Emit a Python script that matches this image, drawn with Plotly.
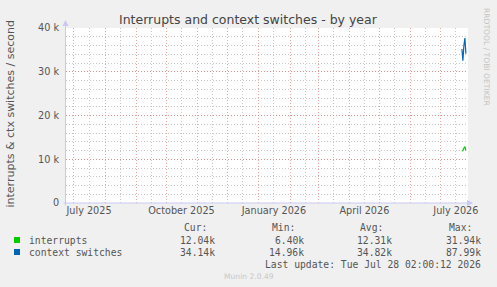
import plotly.graph_objects as go

# ---------------- data ----------------
dates = ["2026-07-22", "2026-07-23", "2026-07-24", "2026-07-25", "2026-07-26"]
interrupts = [11900, 12000, 12500, 12900, 12040]
ctx_switches = [35200, 32500, 36000, 37700, 34140]

series_names = ["interrupts", "context switches"]
cur_vals = ["12.04k", "34.14k"]
min_vals = ["6.40k", "14.96k"]
avg_vals = ["12.31k", "34.82k"]
max_vals = ["31.94k", "87.99k"]

x_start = "2025-06-23 02:00"
x_end = "2026-07-28 02:00"
y_tick_vals = [0, 10000, 20000, 30000, 40000]
y_tick_text = ["0", "10 k", "20 k", "30 k", "40 k"]
x_label_vals = ["2025-07-16", "2025-10-16", "2026-01-16", "2026-04-16", "2026-07-16"]
x_label_text = ["July 2025", "October 2025", "January 2026", "April 2026", "July 2026"]

title = "Interrupts and context switches - by year"
y_title = "interrupts & ctx switches / second"
last_update = "Last update: Tue Jul 28 02:00:12 2026"

# ---------------- layout helpers ----------------
W, H = 497, 287
L, R, T, B = 66, 29, 28, 84
PW, PH = W - L - R, H - T - B


def px(x):
    return (x - L) / PW


def py(y):
    return (H - B - y) / PH


GREEN = "#00cc00"
BLUE = "#0066b3"
colors = [GREEN, BLUE]
TXT = "#555555"

fig = go.Figure()
fig.add_trace(go.Scatter(x=dates, y=interrupts, mode="lines", name=series_names[0],
                         line=dict(color=GREEN, width=1.2), xaxis="x", yaxis="y"))
fig.add_trace(go.Scatter(x=dates, y=ctx_switches, mode="lines", name=series_names[1],
                         line=dict(color=BLUE, width=1.2), xaxis="x", yaxis="y"))

annotations = []
shapes = []

# title
annotations.append(dict(text=title, x=px(248), y=py(19), xref="paper", yref="paper",
                        showarrow=False, font=dict(family="DejaVu Sans", size=12.5, color="#444444"),
                        xanchor="center", yanchor="middle"))
# y title
annotations.append(dict(text=y_title, x=px(9.5), y=py(114), xref="paper", yref="paper",
                        showarrow=False, textangle=-90,
                        font=dict(family="DejaVu Sans", size=11, color=TXT),
                        xanchor="center", yanchor="middle"))
# watermark right
annotations.append(dict(text="RRDTOOL / TOBI OETIKER", x=px(487), y=py(57), xref="paper", yref="paper",
                        showarrow=False, textangle=90,
                        font=dict(family="DejaVu Sans", size=7.6, color="#c4c4c4"),
                        xanchor="center", yanchor="middle"))
# axis arrows
annotations.append(dict(text="", x=px(65.5), y=py(20), xref="paper", yref="paper",
                        ax=0, ay=187, showarrow=True, arrowhead=2, arrowsize=1.2,
                        arrowwidth=1, arrowcolor="#c8c8f4", standoff=0))
annotations.append(dict(text="", x=px(473), y=py(203), xref="paper", yref="paper",
                        ax=-411, ay=0, showarrow=True, arrowhead=2, arrowsize=1.2,
                        arrowwidth=1, arrowcolor="#c8c8f4", standoff=0))

# legend block
mono = dict(family="DejaVu Sans Mono", size=9.7, color=TXT)
headers = ["Cur:", "Min:", "Avg:", "Max:"]
head_x = [182, 270, 358, 447]
val_right = [217, 306, 394, 483]
cols = [cur_vals, min_vals, avg_vals, max_vals]
for hx, h in zip(head_x, headers):
    annotations.append(dict(text=h, x=px(hx), y=py(227), xref="paper", yref="paper",
                            showarrow=False, font=mono, xanchor="left", yanchor="middle"))
row_y = [240, 252]
for i, name in enumerate(series_names):
    annotations.append(dict(text=name, x=px(27), y=py(row_y[i]), xref="paper", yref="paper",
                            showarrow=False, font=mono, xanchor="left", yanchor="middle"))
    shapes.append(dict(type="rect", xref="paper", yref="paper",
                       x0=px(14), x1=px(20), y0=py(row_y[i] + 3), y1=py(row_y[i] - 3),
                       fillcolor=colors[i], line=dict(width=0)))
    for c, rx in zip(cols, val_right):
        annotations.append(dict(text=c[i], x=px(rx), y=py(row_y[i]), xref="paper", yref="paper",
                                showarrow=False, font=mono, xanchor="right", yanchor="middle"))
annotations.append(dict(text=last_update, x=px(483), y=py(264), xref="paper", yref="paper",
                        showarrow=False, font=mono, xanchor="right", yanchor="middle"))
annotations.append(dict(text="Munin 2.0.49", x=px(249), y=py(276), xref="paper", yref="paper",
                        showarrow=False, font=dict(family="DejaVu Sans", size=7.6, color="#c8c8c8"),
                        xanchor="center", yanchor="middle"))

RED_GRID = "rgba(225,125,125,0.7)"
GRAY_GRID = "rgba(195,195,195,0.9)"

fig.update_layout(
    width=W, height=H,
    margin=dict(l=L, r=R, t=T, b=B, pad=0),
    paper_bgcolor="#f0f0f0", plot_bgcolor="#ffffff",
    showlegend=False,
    xaxis=dict(type="date", range=[x_start, x_end], tickvals=x_label_vals, ticktext=x_label_text,
               showgrid=False, zeroline=False, showline=False, ticks="",
               tickfont=dict(family="DejaVu Sans", size=9.7, color=TXT), fixedrange=True),
    xaxis2=dict(type="date", range=[x_start, x_end], overlaying="x", showticklabels=False,
                tick0="2025-07-01", dtick="M1", showgrid=True, gridcolor=RED_GRID, griddash="1px,2px",
                gridwidth=1, zeroline=False, showline=False, ticks="",
                minor=dict(tick0="2025-06-16", dtick="M1", showgrid=True, gridcolor=GRAY_GRID,
                           griddash="1px,2px", gridwidth=1)),
    yaxis=dict(range=[0, 40000], tickvals=y_tick_vals, ticktext=y_tick_text,
               showgrid=True, gridcolor=RED_GRID, griddash="1px,2px", gridwidth=1,
               minor=dict(dtick=2000, showgrid=True, gridcolor=GRAY_GRID, griddash="1px,2px"),
               zeroline=False, showline=False, ticks="outside", ticklen=4, tickcolor="rgba(0,0,0,0)",
               tickfont=dict(family="DejaVu Sans", size=9.7, color=TXT)),
    annotations=annotations,
    shapes=shapes,
)
# dummy trace to activate xaxis2 grid
fig.add_trace(go.Scatter(x=[x_start], y=[None], xaxis="x2", yaxis="y", showlegend=False,
                         hoverinfo="skip", mode="lines"))

fig.write_html("out.html")
